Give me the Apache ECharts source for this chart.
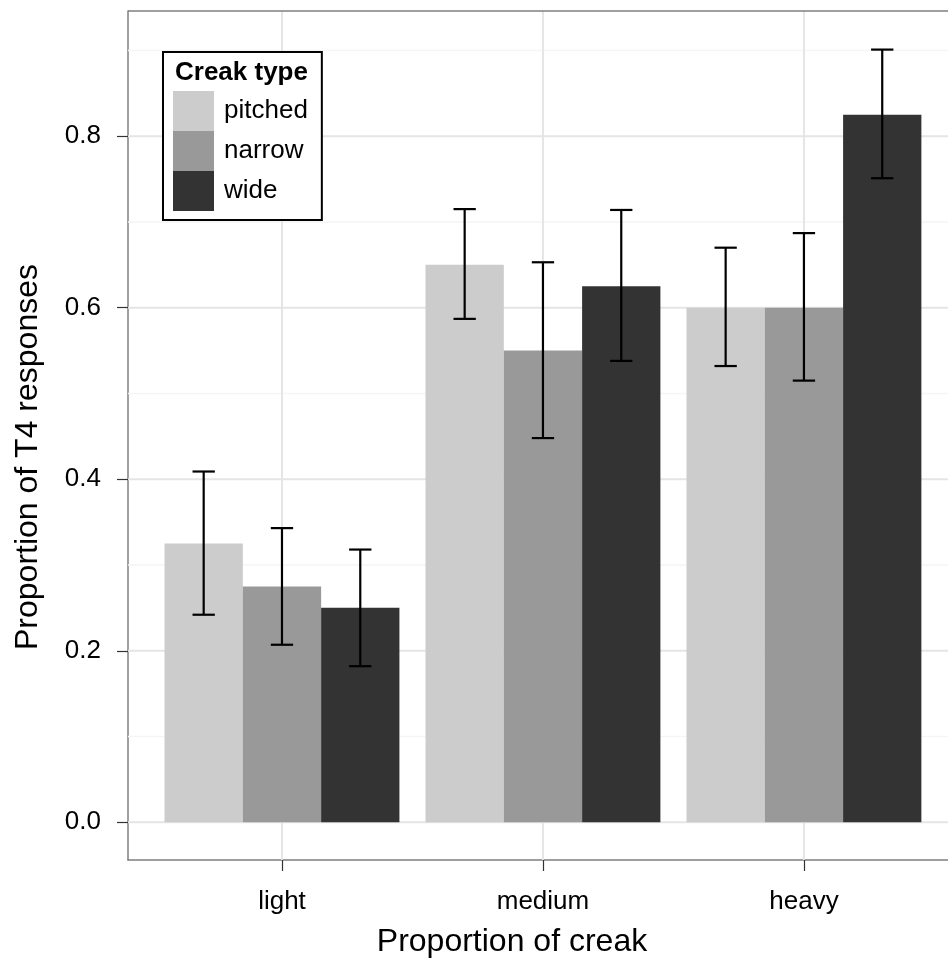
<!DOCTYPE html>
<html>
<head>
<meta charset="utf-8">
<script src="https://cdn.jsdelivr.net/npm/echarts@6/dist/echarts.min.js"></script>
<style>
  html, body { margin: 0; padding: 0; background: #fff; }
  #chart { width: 948px; height: 959px; }
</style>
</head>
<body>
<div id="chart"></div>
<script>
// categories and groups
const categories = ['light', 'medium', 'heavy'];
const creakTypes = ['pitched', 'narrow', 'wide'];
const colors = ['#CCCCCC', '#999999', '#333333'];

// proportions and error bar limits, one array per creak type
const pitched = [0.325, 0.65, 0.60];
const pitchedLow = [0.242, 0.587, 0.532];
const pitchedHigh = [0.409, 0.715, 0.670];

const narrow = [0.275, 0.55, 0.60];
const narrowLow = [0.207, 0.448, 0.515];
const narrowHigh = [0.343, 0.653, 0.687];

const wide = [0.25, 0.625, 0.825];
const wideLow = [0.182, 0.538, 0.751];
const wideHigh = [0.318, 0.714, 0.901];

const yTicks = [0, 0.2, 0.4, 0.6, 0.8];
const yMinor = [0.1, 0.3, 0.5, 0.7, 0.9];
const xTicks = [1, 2, 3];

// panel runs past the right edge of the picture, so the axis is cut at 948px
const X_MIN = 0.41, X_MAX = 3.552;
const Y_MIN = -0.044, Y_MAX = 0.946;
const BAR_W = 0.3;
const font = 'Liberation Sans, Arial, Helvetica, sans-serif';
const borderCol = '#7f7f7f';

const values = [pitched, narrow, wide];
const lows = [pitchedLow, narrowLow, wideLow];
const highs = [pitchedHigh, narrowHigh, wideHigh];
const offsets = [-BAR_W, 0, BAR_W];

let chart = echarts.init(document.getElementById('chart'), null, { renderer: 'canvas' });

function barSeries(k) {
    return {
        name: creakTypes[k],
        type: 'custom',
        z: 2,
        itemStyle: { color: colors[k] },
        data: values[k].map((v, i) => [xTicks[i] + offsets[k], v]),
        renderItem: function (params, api) {
            const x = api.value(0);
            const y = api.value(1);
            const p0 = api.coord([x - BAR_W / 2, y]);
            const p1 = api.coord([x + BAR_W / 2, 0]);
            return {
                type: 'rect',
                shape: { x: p0[0], y: p0[1], width: p1[0] - p0[0], height: p1[1] - p0[1] },
                style: { fill: colors[k] }
            };
        }
    };
}

const errData = [];
for (let k = 0; k < 3; k++) {
    for (let i = 0; i < 3; i++) {
        errData.push([xTicks[i] + offsets[k], lows[k][i], highs[k][i]]);
    }
}

const option = {
    animation: false,
    backgroundColor: '#fff',
    grid: {
        left: 128, top: 11, right: 0, bottom: 99
    },
    xAxis: {
        type: 'value', min: X_MIN, max: X_MAX,
        axisLine: { show: true, onZero: false, lineStyle: { color: borderCol, width: 1.5 } },
        splitLine: { show: false },
        axisTick: { show: true, customValues: xTicks, length: 11, lineStyle: { color: '#333', width: 1.2 } },
        axisLabel: {
            customValues: xTicks, margin: 29,
            formatter: v => categories[Math.round(v) - 1],
            fontSize: 26, color: '#000', fontFamily: font
        }
    },
    yAxis: {
        type: 'value', min: Y_MIN, max: Y_MAX,
        axisLine: { show: true, onZero: false, lineStyle: { color: borderCol, width: 1.5 } },
        splitLine: { show: false },
        axisTick: { show: true, customValues: yTicks, length: 11, lineStyle: { color: '#333', width: 1.2 } },
        axisLabel: {
            customValues: yTicks, margin: 27,
            formatter: v => v.toFixed(1),
            fontSize: 26, color: '#000', fontFamily: font
        }
    },
    legend: {
        orient: 'vertical',
        left: 163, top: 52,
        padding: [39, 14, 9, 10],
        itemGap: 0,
        itemWidth: 41, itemHeight: 40,
        borderColor: '#000', borderWidth: 2,
        backgroundColor: '#fff',
        icon: 'rect',
        selectedMode: false,
        textStyle: { fontSize: 26, color: '#000', fontFamily: font, padding: [0, 0, 0, 5] },
        data: creakTypes.map((n, k) => ({ name: n, itemStyle: { color: colors[k] } }))
    },
    graphic: [
        {
            type: 'text', x: 175, y: 73, z: 100,
            style: { text: 'Creak type', fontSize: 26, fontWeight: 'bold', fontFamily: font, fill: '#000', verticalAlign: 'middle' }
        },
        {
            type: 'text', x: 512, y: 942,
            style: { text: 'Proportion of creak', fontSize: 32, fontFamily: font, fill: '#000', align: 'center', verticalAlign: 'middle' }
        },
        {
            type: 'text', x: 28, y: 457, rotation: Math.PI / 2,
            style: { text: 'Proportion of T4 responses', fontSize: 32, fontFamily: font, fill: '#000', align: 'center', verticalAlign: 'middle' }
        }
    ],
    series: [
        {
            name: 'hgrid',
            type: 'custom',
            z: 1,
            silent: true,
            data: yTicks.map(v => [v, 1]).concat(yMinor.map(v => [v, 0])),
            renderItem: function (params, api) {
                const v = api.value(0);
                const major = api.value(1) === 1;
                const a = api.coord([X_MIN, v]);
                const b = api.coord([X_MAX, v]);
                return {
                    type: 'line',
                    shape: { x1: a[0], y1: a[1], x2: b[0], y2: b[1] },
                    style: { stroke: major ? '#E5E5E5' : '#F5F5F5', lineWidth: major ? 2 : 1.5 }
                };
            }
        },
        {
            name: 'vgrid',
            type: 'custom',
            z: 1,
            silent: true,
            data: xTicks.map(v => [v, 0]),
            renderItem: function (params, api) {
                const v = api.value(0);
                const a = api.coord([v, Y_MIN]);
                const b = api.coord([v, Y_MAX]);
                return {
                    type: 'line',
                    shape: { x1: a[0], y1: a[1], x2: b[0], y2: b[1] },
                    style: { stroke: '#E5E5E5', lineWidth: 2 }
                };
            }
        },
        {
            // top edge of the panel
            name: 'topborder',
            type: 'custom',
            z: 4,
            silent: true,
            data: [[Y_MAX]],
            renderItem: function (params, api) {
                const a = api.coord([X_MIN, api.value(0)]);
                const b = api.coord([X_MAX, api.value(0)]);
                return {
                    type: 'line',
                    shape: { x1: a[0], y1: a[1], x2: b[0], y2: b[1] },
                    style: { stroke: borderCol, lineWidth: 1.5 }
                };
            }
        },
        barSeries(0),
        barSeries(1),
        barSeries(2),
        {
            name: 'errorbars',
            type: 'custom',
            z: 3,
            silent: true,
            data: errData,
            renderItem: function (params, api) {
                const x = api.value(0);
                const lo = api.coord([x, api.value(1)]);
                const hi = api.coord([x, api.value(2)]);
                const half = api.size([0.0855, 0])[0] / 2;
                const st = { stroke: '#000', lineWidth: 2.2 };
                return {
                    type: 'group',
                    children: [
                        { type: 'line', shape: { x1: lo[0], y1: lo[1], x2: hi[0], y2: hi[1] }, style: st },
                        { type: 'line', shape: { x1: hi[0] - half, y1: hi[1], x2: hi[0] + half, y2: hi[1] }, style: st },
                        { type: 'line', shape: { x1: lo[0] - half, y1: lo[1], x2: lo[0] + half, y2: lo[1] }, style: st }
                    ]
                };
            }
        }
    ]
};

chart.setOption(option);

window.addEventListener('resize', function () {
    chart.resize();
});
</script>
</body>
</html>
